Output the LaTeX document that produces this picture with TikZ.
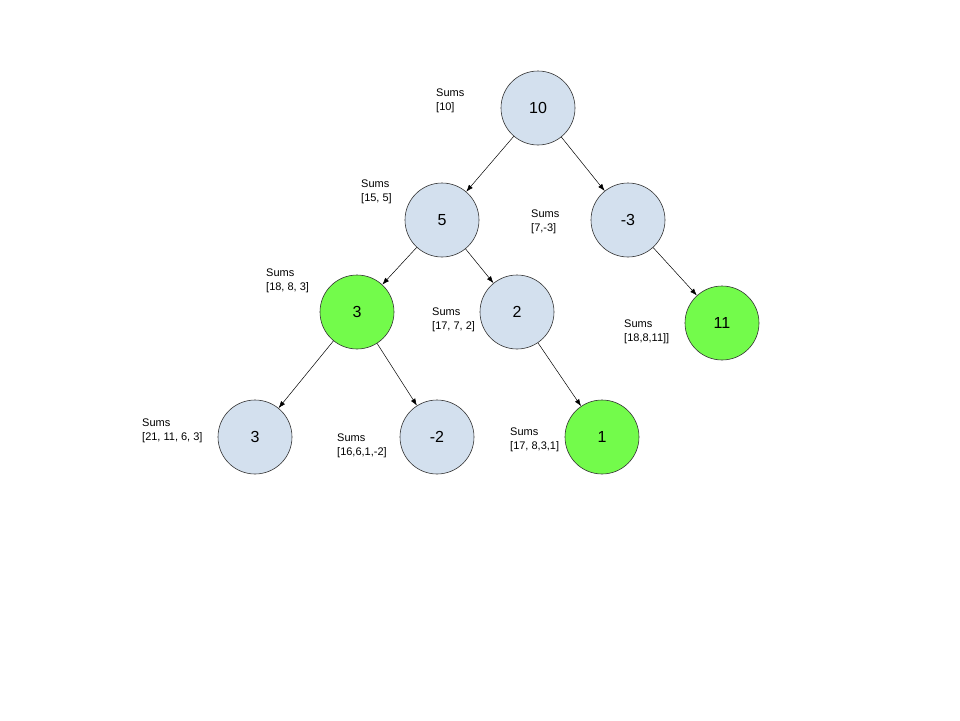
\documentclass[tikz,border=0pt]{standalone}
\usepackage{fontspec}
\setmainfont{Liberation Sans}
\usetikzlibrary{arrows.meta}
\begin{document}
\begin{tikzpicture}[x=1pt,y=-1pt,
  nd/.style={circle,draw=black!80,line width=0.6pt,minimum size=74pt,inner sep=0pt,font=\fontsize{16}{18}\selectfont},
  blue/.style={nd,fill={rgb,255:red,211;green,224;blue,238}},
  green/.style={nd,fill={rgb,255:red,115;green,251;blue,75}},
  lbl/.style={anchor=west,align=left,inner sep=0pt,font=\fontsize{11}{14}\selectfont},
  arr/.style={-{Latex[length=7pt,width=5pt]},line width=0.5pt}]
\useasboundingbox (0,0) rectangle (960,720);
\fill[white] (0,0) rectangle (960,720);
\node[blue] (n10) at (538,108) {10};
\node[blue] (n5) at (442,220) {5};
\node[blue] (nm3) at (628,220) {-3};
\node[green] (n3g) at (357,312) {3};
\node[blue] (n2) at (517,312) {2};
\node[green] (n11) at (722,323) {11};
\node[blue] (n3) at (255,437) {3};
\node[blue] (nm2) at (437,437) {-2};
\node[green] (n1) at (602,437) {1};
\draw[arr] (n10) -- (n5);
\draw[arr] (n10) -- (nm3);
\draw[arr] (n5) -- (n3g);
\draw[arr] (n5) -- (n2);
\draw[arr] (nm3) -- (n11);
\draw[arr] (n3g) -- (n3);
\draw[arr] (n3g) -- (nm2);
\draw[arr] (n2) -- (n1);
\node[lbl] (l1) at (436,101) {Sums\\{[10]}};
\node[lbl] (l2) at (361,192) {Sums\\{[15, 5]}};
\node[lbl] (l3) at (531,222) {Sums\\{[7,-3]}};
\node[lbl] (l4) at (266,281) {Sums\\{[18, 8, 3]}};
\node[lbl] (l5) at (432,320) {Sums\\{[17, 7, 2]}};
\node[lbl] (l6) at (624,332) {Sums\\{[18,8,11]]}};
\node[lbl] (l7) at (142,431) {Sums\\{[21, 11, 6, 3]}};
\node[lbl] (l8) at (337,446) {Sums\\{[16,6,1,-2]}};
\node[lbl] (l9) at (510,440) {Sums\\{[17, 8,3,1]}};
\end{tikzpicture}
\end{document}
